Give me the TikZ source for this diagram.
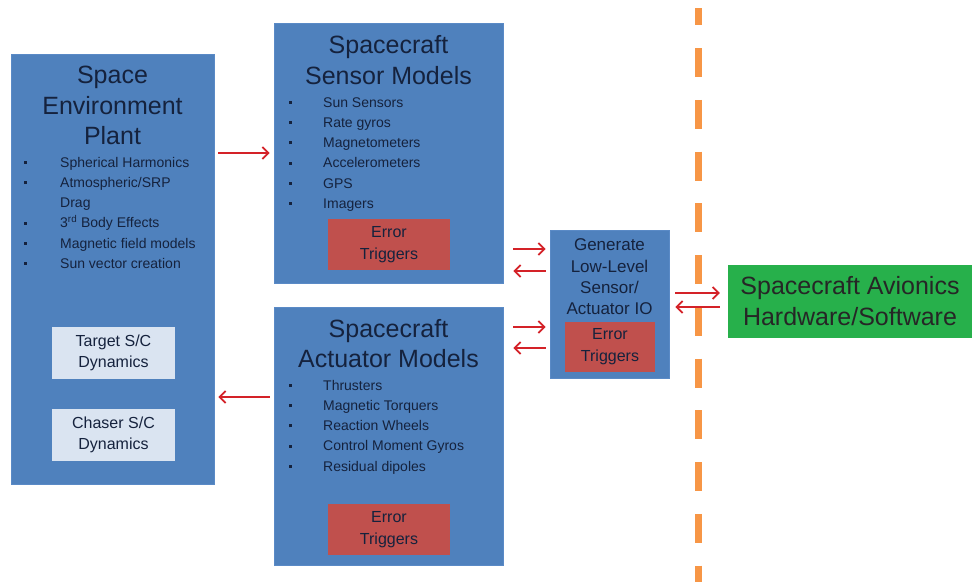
\documentclass[tikz,border=0pt]{standalone}
\usepackage{fontspec}
\setmainfont{Liberation Sans}
\usetikzlibrary{arrows.meta}

\definecolor{boxblue}{HTML}{4F81BD}
\definecolor{boxedge}{HTML}{5A8AC6}
\definecolor{errred}{HTML}{C0504D}
\definecolor{lightbox}{HTML}{DAE4F1}
\definecolor{avgreen}{HTML}{27B04B}
\definecolor{dashorange}{HTML}{F79646}
\definecolor{flowred}{HTML}{D42228}
\definecolor{navytext}{HTML}{15223D}

% bulleted list line: small square mark, then the item text
\newcommand\itm[2][36pt]{\makebox[#1][l]{\raisebox{3.4pt}{\rule{3pt}{3pt}}}#2\strut}
\newcommand\cont[2][36pt]{\hspace*{#1}#2\strut}

\begin{document}
\begin{tikzpicture}[x=1pt,y=-1pt,
  bluebox/.style={draw=boxedge, line width=0.8pt, fill=boxblue, inner sep=0pt},
  errbox/.style={fill=errred, inner sep=0pt, align=center, text=navytext,
                 font=\fontsize{16}{22}\selectfont},
  dynbox/.style={fill=lightbox, inner sep=0pt, align=center, text=navytext,
                 font=\fontsize{16}{21}\selectfont},
  boxtitle/.style={inner sep=0pt, align=center, text=navytext,
                   font=\fontsize{25}{30.5}\selectfont},
  itemlist/.style={inner sep=0pt, align=left, text=navytext, anchor=north west,
                   font=\fontsize{14}{20.2}\selectfont},
  flow/.style={draw=flowred, line width=1.8pt,
               -{Straight Barb[length=6pt,width=12pt]}},
  divider/.style={draw=dashorange, line width=7pt,
                  dash pattern=on 29pt off 22.75pt, dash phase=11.75pt}
]
\useasboundingbox (0,0) rectangle (972,582);
\fill[white] (0,0) rectangle (972,582);

% hardware / simulation divider
\draw[divider] (698.5,8) -- (698.5,582);

% space environment plant
\node[bluebox, minimum width=203, minimum height=430] (env) at (112.5,269) {};
\node[boxtitle] (envtitle) at (112.5,105.5) {Space\\Environment\\Plant};
\node[itemlist] (envlist) at (24,153) {%
  \itm{Spherical Harmonics}\\
  \itm{Atmospheric/SRP}\\
  \cont{Drag}\\
  \itm{3\textsuperscript{rd} Body Effects}\\
  \itm{Magnetic field models}\\
  \itm{Sun vector creation}};
\node[dynbox, minimum width=123, minimum height=52] (target) at (113.5,353) {Target S/C\\Dynamics};
\node[dynbox, minimum width=123, minimum height=52] (chaser) at (113.5,435) {Chaser S/C\\Dynamics};

% sensor models
\node[bluebox, minimum width=229, minimum height=260] (sensor) at (388.5,153) {};
\node[boxtitle] (sensortitle) at (388.5,60) {Spacecraft\\Sensor Models};
\node[itemlist] (sensorlist) at (289,93) {%
  \itm[34pt]{Sun Sensors}\\
  \itm[34pt]{Rate gyros}\\
  \itm[34pt]{Magnetometers}\\
  \itm[34pt]{Accelerometers}\\
  \itm[34pt]{GPS}\\
  \itm[34pt]{Imagers}};
\node[errbox, minimum width=122, minimum height=51] (sensorerr) at (389,244.5) {Error\\Triggers};

% actuator models
\node[bluebox, minimum width=229, minimum height=258] (act) at (388.5,436) {};
\node[boxtitle] (acttitle) at (388.5,343.5) {Spacecraft\\Actuator Models};
\node[itemlist] (actlist) at (289,376) {%
  \itm[34pt]{Thrusters}\\
  \itm[34pt]{Magnetic Torquers}\\
  \itm[34pt]{Reaction Wheels}\\
  \itm[34pt]{Control Moment Gyros}\\
  \itm[34pt]{Residual dipoles}};
\node[errbox, minimum width=122, minimum height=51] (acterr) at (389,529.5) {Error\\Triggers};

% low-level IO generation
\node[bluebox, minimum width=119, minimum height=148] (io) at (609.5,304) {};
\node[inner sep=0pt, align=center, text=navytext, font=\fontsize{17}{21.3}\selectfont]
  (iotext) at (609.5,277) {Generate\\Low-Level\\Sensor/\\Actuator IO};
\node[errbox, minimum width=90, minimum height=50] (ioerr) at (610,347) {Error\\Triggers};

% avionics hardware
\node[fill=avgreen, inner sep=0pt, minimum width=244, minimum height=73, align=center,
      text=black!85, font=\fontsize{25}{31}\selectfont] (avionics) at (850,301.5)
  {Spacecraft Avionics\\Hardware/Software};

% data flow
\draw[flow, shorten <=4pt, shorten >=4pt] (env.east |- 0,153) -- (sensor.west |- 0,153);
\draw[flow, shorten <=4pt, shorten >=4pt] (act.west |- 0,397) -- (env.east |- 0,397);
\draw[flow, shorten <=10pt, shorten >=4pt] (sensor.east |- 0,249) -- (io.west |- 0,249);
\draw[flow, shorten <=4pt, shorten >=10pt] (io.west |- 0,271) -- (sensor.east |- 0,271);
\draw[flow, shorten <=10pt, shorten >=4pt] (act.east |- 0,327) -- (io.west |- 0,327);
\draw[flow, shorten <=4pt, shorten >=10pt] (io.west |- 0,348) -- (act.east |- 0,348);
\draw[flow, shorten <=6pt, shorten >=8pt] (io.east |- 0,293) -- (avionics.west |- 0,293);
\draw[flow, shorten <=8pt, shorten >=6pt] (avionics.west |- 0,307) -- (io.east |- 0,307);
\end{tikzpicture}
\end{document}
